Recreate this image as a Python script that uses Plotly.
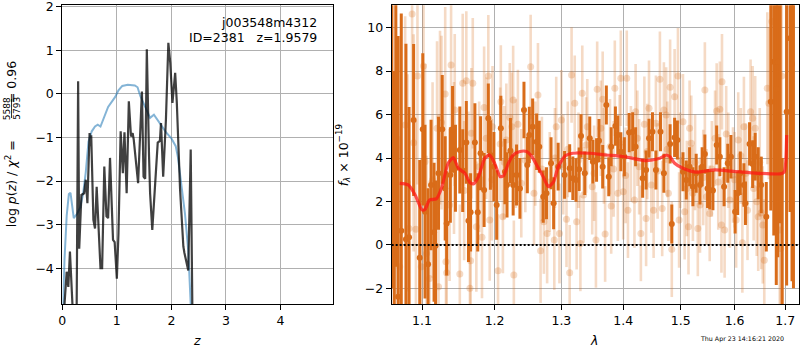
import plotly.graph_objects as go

# ---------------- left panel: log p(z) ----------------
z_prior = [0.00, 0.04, 0.08, 0.12, 0.15, 0.18, 0.21, 0.27, 0.33, 0.38, 0.43, 0.48, 0.54, 0.60, 0.65,
           0.70, 0.75, 0.84, 0.97, 1.03, 1.10, 1.20, 1.33, 1.38, 1.43, 1.50, 1.61, 1.68, 1.79, 1.90,
           2.00, 2.08, 2.12, 2.17, 2.25, 2.31, 2.35, 2.38]
logp_prior = [-5.5, -3.8, -2.8, -2.3, -2.27, -2.6, -2.85, -2.75, -2.6, -2.3, -1.8, -1.1, -0.86, -0.75, -0.71,
              -0.75, -0.6, -0.3, -0.07, 0.08, 0.18, 0.21, 0.19, 0.15, -0.05, -0.25, -0.55, -0.48, -0.68, -0.88,
              -1.02, -1.2, -1.45, -2.0, -2.75, -3.6, -4.5, -5.5]

z_grid = [0.00, 0.02, 0.08, 0.11, 0.14, 0.17, 0.20, 0.26, 0.29, 0.31, 0.35, 0.40, 0.43, 0.46, 0.50,
          0.52, 0.53, 0.57, 0.60, 0.63, 0.66, 0.70, 0.73, 0.77, 0.81, 0.84, 0.875, 0.93, 0.96, 1.00,
          1.03, 1.07, 1.11, 1.14, 1.18, 1.22, 1.26, 1.29, 1.31, 1.39, 1.46, 1.49, 1.52, 1.55, 1.59,
          1.61, 1.65, 1.71, 1.75, 1.79, 1.81, 1.85, 1.90, 1.945, 1.98, 2.02, 2.07, 2.10, 2.16, 2.22,
          2.24, 2.31, 2.355, 2.39, 2.42]
logp = [-6.0, -5.2, -4.08, -4.43, -3.62, -4.36, -5.2, -5.5, 0.29, -3.55, -2.32, -2.28, -1.97, -2.51, -0.90,
        -1.2, -0.95, -2.89, -3.09, -2.13, -2.89, -4.0, -4.0, -1.67, -2.81, -2.85, -1.47, -3.35, -3.4, -4.24,
        -3.2, -0.86, -1.82, -0.88, -2.28, -0.17, -0.98, -0.9, -1.05, -2.05, 0.05, -1.9, -1.95, 1.02, -1.4,
        -2.28, -3.12, -1.97, -1.12, -1.08, -0.67, -1.9, -0.6, 1.17, 0.71, -0.21, 0.48, -0.2, -2.2, -3.5,
        -3.65, -4.05, -1.28, -5.5, -7.0]

# ---------------- right panel: spectrum ----------------
lam_dark = [1.061, 1.064, 1.066, 1.069, 1.073, 1.079, 1.083, 1.089, 1.097, 1.101, 1.104, 1.108, 1.112, 1.116,
            1.118, 1.122, 1.127, 1.131, 1.133, 1.138, 1.141, 1.145, 1.151, 1.155, 1.160, 1.163, 1.166, 1.172,
            1.176, 1.180, 1.185, 1.191, 1.194, 1.199, 1.203, 1.209, 1.215, 1.218, 1.223, 1.227, 1.232, 1.237,
            1.243, 1.248, 1.251, 1.256, 1.262, 1.266, 1.272, 1.277, 1.284, 1.288, 1.295, 1.305, 1.313, 1.318,
            1.323, 1.328, 1.331, 1.337, 1.345, 1.350, 1.356, 1.360, 1.366, 1.372, 1.376, 1.380, 1.387, 1.391,
            1.396, 1.402, 1.410, 1.416, 1.421, 1.433, 1.439, 1.444, 1.450, 1.456, 1.464, 1.470, 1.481, 1.484,
            1.489, 1.494, 1.504, 1.510, 1.516, 1.522, 1.528, 1.535, 1.539, 1.544, 1.549, 1.553, 1.559, 1.566,
            1.572, 1.580, 1.587, 1.593, 1.601, 1.606, 1.611, 1.618, 1.621, 1.629, 1.635, 1.640, 1.646, 1.652,
            1.662, 1.671, 1.677, 1.682, 1.685, 1.690, 1.694, 1.703, 1.710, 1.714, 1.717]
f_dark = [14.0, -6.0, 13.0, -2.38, 0.65, 0.26, 0.35, 5.75, -0.59, 5.32, 1.53, -0.89, 2.76, 0.58,
          -0.04, 3.30, 5.32, 2.60, 0.99, 3.22, 5.32, 3.53, 4.37, 3.42, 4.72, 1.11, 1.50, 4.72,
          1.50, 4.22, 2.53, 5.83, 4.14, 3.60, 1.84, 5.37, 3.37, 2.76, 4.34, 2.76, 3.22, 2.60,
          6.21, 3.68, 5.06, 5.44, 4.75, 4.52, 2.22, 2.38, 3.76, 1.92, 3.60, 3.22, 3.53, 3.07,
          2.99, 3.48, 5.01, 3.30, 4.91, 3.83, 3.91, 4.80, 3.60, 6.44, 3.14, 4.52, 5.47, 5.06,
          4.29, 4.06, 5.17, 5.21, 4.52, 3.07, 3.45, 4.91, 5.21, 3.45, 5.21, 3.30, 4.65, 0.96,
          4.95, 4.83, 3.37, 2.99, 3.60, 2.68, 3.30, 2.76, 3.60, 4.18, 2.60, 2.53, 2.50, 4.60,
          4.06, 2.68, 3.76, 4.06, 1.53, 2.38, 3.30, 2.76, 1.92, 4.65, 3.72, 4.06, 3.30, 2.76,
          1.30, 6.59, 8.43, 7.16, 8.43, 13.0, -6.0, 6.13, 9.51, 8.33, 12.0]
e_dark = [16, 14, 14, 12, 10, 9, 6, 3.5, 4.5, 3.5, 4.0, 3.5, 3.0, 3.2,
          3.0, 2.6, 2.5, 2.4, 2.4, 2.2, 2.0, 2.0, 2.0, 1.9, 1.9, 1.9, 1.8, 1.8,
          1.8, 1.7, 1.7, 1.6, 1.6, 1.6, 1.6, 1.5, 1.5, 1.5, 1.5, 1.4, 1.4, 1.4,
          1.3, 1.3, 1.3, 1.3, 1.3, 1.2, 1.2, 1.2, 1.2, 1.2, 1.1, 1.1, 1.1, 1.0,
          1.0, 1.0, 1.0, 1.0, 1.0, 1.0, 1.0, 1.0, 1.0, 0.9, 0.9, 0.9, 0.9, 0.9,
          0.9, 0.9, 0.9, 0.9, 0.9, 0.9, 0.9, 0.9, 0.9, 0.9, 0.9, 0.9, 0.9, 0.9,
          0.9, 0.9, 0.9, 0.9, 0.9, 0.9, 0.9, 0.9, 0.9, 0.9, 0.9, 0.9, 0.9, 0.9,
          0.9, 0.9, 0.9, 1.0, 1.0, 1.0, 1.0, 1.0, 1.0, 1.0, 1.1, 1.1, 1.2, 1.3,
          1.6, 5.0, 8.0, 9.0, 9.0, 12.0, 10.0, 8.0, 8.0, 10.0, 14.0]

lam_light = [1.066, 1.071, 1.078, 1.081, 1.083, 1.087, 1.089, 1.092, 1.094, 1.099, 1.102, 1.104, 1.106, 1.110,
             1.114, 1.120, 1.122, 1.124, 1.126, 1.131, 1.132, 1.133, 1.137, 1.139, 1.143, 1.144, 1.151, 1.155,
             1.157, 1.160, 1.163, 1.165, 1.166, 1.167, 1.169, 1.174, 1.178, 1.182, 1.185, 1.188, 1.191, 1.193,
             1.196, 1.197, 1.205, 1.208, 1.209, 1.212, 1.214, 1.217, 1.222, 1.225, 1.227, 1.228, 1.231, 1.234,
             1.239, 1.245, 1.253, 1.258, 1.260, 1.264, 1.268, 1.270, 1.273, 1.278, 1.282, 1.289, 1.290, 1.292,
             1.297, 1.300, 1.303, 1.308, 1.310, 1.313, 1.316, 1.321, 1.324, 1.327, 1.330, 1.333, 1.335, 1.339,
             1.341, 1.349, 1.352, 1.355, 1.357, 1.363, 1.366, 1.368, 1.370, 1.378, 1.380, 1.384, 1.386, 1.391,
             1.394, 1.396, 1.400, 1.404, 1.406, 1.408, 1.413, 1.419, 1.421, 1.424, 1.427, 1.430, 1.436, 1.439,
             1.441, 1.444, 1.448, 1.452, 1.456, 1.459, 1.463, 1.467, 1.470, 1.474, 1.476, 1.478, 1.481, 1.484,
             1.489, 1.495, 1.497, 1.499, 1.504, 1.507, 1.511, 1.514, 1.516, 1.519, 1.522, 1.526, 1.531, 1.535,
             1.541, 1.544, 1.547, 1.553, 1.557, 1.563, 1.566, 1.569, 1.572, 1.575, 1.576, 1.581, 1.584, 1.588,
             1.591, 1.597, 1.600, 1.603, 1.607, 1.612, 1.615, 1.618, 1.622, 1.625, 1.631, 1.635, 1.637, 1.640,
             1.643, 1.646, 1.649, 1.652, 1.655, 1.658, 1.664, 1.667, 1.673, 1.689, 1.691, 1.693]
f_light = [4.5, -1.0, 5.52, 2.86, 0.76, 10.63, 4.70, 0.72, 7.78, -1.0, 8.24, 3.83, -0.39, -1.54,
           2.99, 5.37, -1.92, 5.86, 5.63, 6.95, -0.77, -1.28, 1.84, 8.28, 4.0, 6.21, -1.34, 7.44,
           2.5, 7.56, 3.14, -2.0, -0.73, 5.14, 7.44, 0.84, 3.6, 0.35, 6.33, 4.91, 7.78, 1.15,
           3.0, 5.44, -1.19, 4.65, 6.59, 1.30, 3.8, 4.83, 5.87, 5.44, 6.67, -1.38, 4.2, 5.56,
           2.84, 3.9, 8.20, 2.38, 4.2, 6.90, -0.27, 3.5, 1.07, 0.53, 2.9, 0.23, 4.0, 5.44,
           0.53, 5.75, 3.7, 1.18, 4.4, -1.28, 7.82, 6.52, 1.07, 3.9, 0.07, 6.98, 2.30, 4.6,
           5.44, 2.68, 3.3, 0.23, 7.16, 5.37, 6.70, 4.1, 0.50, 4.52, 1.79, 3.5, 7.21, 2.38,
           4.7, 7.67, 2.45, 3.2, 7.67, 1.60, 4.2, 2.07, 6.13, 4.91, 3.6, 0.53, 5.55, 1.22,
           4.3, 6.29, 2.76, 1.60, 5.60, 3.4, 7.62, 1.68, 6.21, 5.98, 4.4, 2.38, 7.26, -0.20,
           6.82, 7.78, 1.15, 3.9, 5.67, 1.53, 2.6, 0.84, 5.37, 4.68, 2.38, 3.8, 0.76, 1.84,
           3.1, 7.13, 2.22, 1.45, 3.5, 4.91, 6.16, 2.9, 6.24, 0.92, 7.51, 0.69, 5.11, 3.9,
           2.07, 3.22, 3.0, 1.15, 4.83, 4.1, 0.10, 5.44, 3.3, 1.60, 6.13, 5.83, 2.6, 5.37,
           1.99, 1.30, 3.8, 1.48, 0.92, -0.70, 7.21, 6.52, 10.28, 0.69, -0.16, 7.78]
e_light = [7, 6, 5, 5, 5, 5, 5, 5, 5, 5, 5, 4.5, 4.5, 4.5,
           4.5, 4, 4, 4, 4, 4, 3.5, 3.5, 3.5, 3.5, 3.5, 3.5, 3.2, 3.2,
           3.2, 3.2, 3.0, 3.0, 3.0, 3.0, 3.0, 3.0, 3.0, 2.8, 2.8, 2.8, 2.8, 2.8,
           2.8, 2.8, 2.6, 2.6, 2.6, 2.6, 2.6, 2.6, 2.5, 2.5, 2.5, 2.5, 2.5, 2.5,
           2.5, 2.4, 2.4, 2.4, 2.4, 2.4, 2.4, 2.4, 2.4, 2.3, 2.3, 2.3, 2.3, 2.3,
           2.3, 2.3, 2.3, 2.2, 2.2, 2.2, 2.2, 2.2, 2.2, 2.2, 2.2, 2.2, 2.2, 2.2,
           2.2, 2.2, 2.2, 2.2, 2.2, 2.2, 2.2, 2.2, 2.2, 2.2, 2.2, 2.2, 2.2, 2.2,
           2.2, 2.2, 2.2, 2.2, 2.2, 2.2, 2.2, 2.2, 2.2, 2.2, 2.2, 2.2, 2.2, 2.2,
           2.2, 2.2, 2.2, 2.2, 2.2, 2.2, 2.2, 2.2, 2.2, 2.2, 2.2, 2.2, 2.2, 2.2,
           2.2, 2.2, 2.2, 2.2, 2.2, 2.2, 2.2, 2.2, 2.2, 2.2, 2.2, 2.2, 2.2, 2.2,
           2.2, 2.2, 2.2, 2.2, 2.2, 2.2, 2.2, 2.2, 2.2, 2.2, 2.2, 2.2, 2.2, 2.2,
           2.2, 2.2, 2.2, 2.2, 2.2, 2.2, 2.3, 2.3, 2.3, 2.3, 2.4, 2.4, 2.4, 2.4,
           2.5, 2.5, 2.5, 2.6, 2.7, 2.8, 3.5, 3.5, 5.0, 6.0, 6.0, 6.0]

lam_model = [1.071, 1.082, 1.091, 1.100, 1.104, 1.110, 1.119, 1.126, 1.135, 1.142, 1.149, 1.158, 1.165,
             1.170, 1.177, 1.186, 1.193, 1.200, 1.208, 1.213, 1.220, 1.227, 1.237, 1.247, 1.254, 1.262,
             1.272, 1.280, 1.288, 1.295, 1.306, 1.318, 1.345, 1.372, 1.400, 1.440, 1.463, 1.475, 1.481,
             1.489, 1.504, 1.527, 1.563, 1.593, 1.632, 1.690, 1.698, 1.703]
f_model = [2.83, 2.76, 2.30, 1.61, 1.64, 2.07, 2.12, 2.61, 3.76, 4.02, 3.53, 3.30, 2.87,
           2.81, 3.14, 3.99, 4.14, 3.76, 3.14, 3.19, 3.76, 4.14, 4.30, 4.30, 4.10, 3.68,
           3.14, 2.68, 2.91, 3.60, 4.10, 4.22, 4.22, 4.14, 4.07, 3.88, 3.99, 4.14, 4.05,
           3.76, 3.53, 3.35, 3.45, 3.40, 3.32, 3.27, 3.35, 5.06]

x_ticks_left = [0, 1, 2, 3, 4]
y_ticks_left = [-4, -3, -2, -1, 0, 1, 2]
x_ticks_right = [1.1, 1.2, 1.3, 1.4, 1.5, 1.6, 1.7]
x_ticklabels_right = ["1.1", "1.2", "1.3", "1.4", "1.5", "1.6", "1.7"]
y_ticks_right = [-2, 0, 2, 4, 6, 8, 10]

FONT = "DejaVu Sans"
DARK = "rgb(217,108,25)"
LIGHT = "rgba(217,108,25,0.25)"

fig = go.Figure()

fig.add_trace(go.Scatter(x=z_prior, y=logp_prior, mode="lines", xaxis="x", yaxis="y",
                         line=dict(color="rgba(31,119,180,0.55)", width=2)))
fig.add_trace(go.Scatter(x=z_grid, y=logp, mode="lines", xaxis="x", yaxis="y",
                         line=dict(color="rgba(0,0,0,0.75)", width=2.2)))

fig.add_trace(go.Scatter(x=lam_light, y=f_light, mode="markers", xaxis="x2", yaxis="y2",
                         marker=dict(color=LIGHT, size=7, line=dict(width=0)),
                         error_y=dict(type="data", array=e_light, visible=True, color=LIGHT,
                                      thickness=2.6, width=0)))
fig.add_trace(go.Scatter(x=lam_dark, y=f_dark, mode="markers", xaxis="x2", yaxis="y2",
                         marker=dict(color=DARK, size=6, line=dict(width=0)),
                         error_y=dict(type="data", array=e_dark, visible=True, color=DARK,
                                      thickness=3, width=0)))
fig.add_trace(go.Scatter(x=lam_model, y=f_model, mode="lines", xaxis="x2", yaxis="y2",
                         line=dict(color="rgba(255,20,20,0.72)", width=3.2, shape="spline",
                                   smoothing=0.6)))

axis_common = dict(showgrid=True, gridcolor="#b0b0b0", gridwidth=1, showline=True, linecolor="black",
                   linewidth=1, mirror=True, ticks="outside", ticklen=5, tickwidth=1, tickcolor="black",
                   zeroline=False, ticklabeloverflow="allow",
                   tickfont=dict(family=FONT, size=12.5, color="black"))

fig.update_layout(
    width=800, height=350,
    margin=dict(l=0, r=0, t=0, b=0),
    paper_bgcolor="white", plot_bgcolor="white",
    showlegend=False,
    font=dict(family=FONT, size=12.5, color="black"),
    xaxis=dict(domain=[0.0779, 0.4166], range=[0, 4.97], tickvals=x_ticks_left, anchor="y",
               automargin=False, **axis_common),
    yaxis=dict(domain=[0.1314, 0.9849], range=[-4.82, 2.03], tickvals=y_ticks_left, anchor="x",
               automargin=False, **axis_common),
    xaxis2=dict(domain=[0.4896, 0.9991], type="log", range=[0.0256, 0.2378], tickvals=x_ticks_right,
                ticktext=x_ticklabels_right, anchor="y2", automargin=False, **axis_common),
    yaxis2=dict(domain=[0.1314, 0.9849], range=[-2.72, 11.03], tickvals=y_ticks_right, anchor="x2",
                automargin=False, **axis_common),
)

fig.add_shape(type="line", xref="x2 domain", yref="y2", x0=0, x1=1, y0=0, y1=0,
              line=dict(color="black", width=2, dash="2px,2px"), layer="above")

ann = []
ann.append(dict(text="j003548m4312", x=318.5 / 800, y=1 - 22.7 / 350, xref="paper", yref="paper",
                xanchor="right", yanchor="middle", showarrow=False, font=dict(family=FONT, size=12.5)))
ann.append(dict(text="ID=2381&nbsp;&nbsp;&nbsp;z=1.9579", x=318.5 / 800, y=1 - 37.7 / 350, xref="paper",
                yref="paper", xanchor="right", yanchor="middle", showarrow=False,
                font=dict(family=FONT, size=12.5)))
# left y label built from pieces (stacked fraction)
ann.append(dict(text="log <i>p</i>(<i>z</i>) / <i>χ</i><sup>2</sup> =", x=11.7 / 800, y=1 - 183.5 / 350,
                xref="paper", yref="paper", xanchor="center", yanchor="middle", textangle=-90,
                showarrow=False, font=dict(family=FONT, size=12.5)))
ann.append(dict(text="5588", x=6.8 / 800, y=1 - 108.5 / 350, xref="paper", yref="paper", xanchor="center",
                yanchor="middle", textangle=-90, showarrow=False, font=dict(family=FONT, size=9)))
ann.append(dict(text="5793", x=16.3 / 800, y=1 - 108.5 / 350, xref="paper", yref="paper", xanchor="center",
                yanchor="middle", textangle=-90, showarrow=False, font=dict(family=FONT, size=9)))
ann.append(dict(text="= 0.96", x=11.7 / 800, y=1 - 82.5 / 350, xref="paper", yref="paper",
                xanchor="center", yanchor="middle", textangle=-90, showarrow=False,
                font=dict(family=FONT, size=12.5)))
ann.append(dict(text="<i>f</i><sub><i>λ</i></sub> × 10<sup>−19</sup>", x=343.3 / 800, y=1 - 155 / 350,
                xref="paper", yref="paper", xanchor="center", yanchor="middle", textangle=-90,
                showarrow=False, font=dict(family=FONT, size=12.5)))
ann.append(dict(text="<i>z</i>", x=196.7 / 800, y=1 - 340 / 350, xref="paper", yref="paper",
                xanchor="center", yanchor="middle", showarrow=False, font=dict(family=FONT, size=12.5)))
ann.append(dict(text="<i>λ</i>", x=594.3 / 800, y=1 - 340 / 350, xref="paper", yref="paper",
                xanchor="center", yanchor="middle", showarrow=False, font=dict(family=FONT, size=12.5)))
ann.append(dict(text="Thu Apr 23 14:16:21 2020", x=741.7 / 800, y=1 - 339 / 350, xref="paper",
                yref="paper", xanchor="center", yanchor="middle", showarrow=False,
                font=dict(family=FONT, size=6.3)))
fig.update_layout(annotations=ann)

fig.add_shape(type="line", xref="paper", yref="paper", x0=11.5 / 800, x1=11.5 / 800,
              y0=1 - 99 / 350, y1=1 - 118 / 350, line=dict(color="black", width=0.8))

fig.write_html("out.html", config={"displayModeBar": False},
               post_script="document.body.style.margin='0';document.body.style.padding='0';"
                           "document.documentElement.style.overflow='hidden';")
